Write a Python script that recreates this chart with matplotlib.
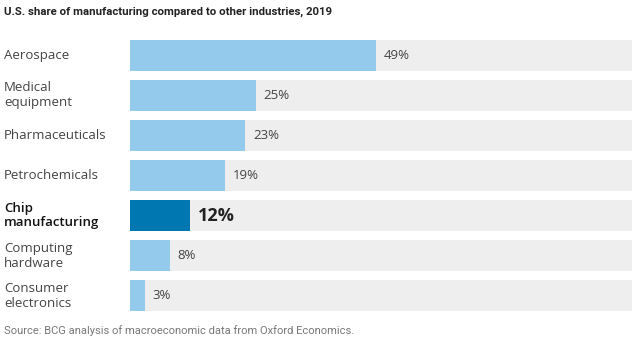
import matplotlib.pyplot as plt
from matplotlib import transforms

plt.rcParams['font.family'] = ['Open Sans', 'DejaVu Sans']

categories = ["Aerospace", "Medical\nequipment", "Pharmaceuticals", "Petrochemicals",
              "Chip\nmanufacturing", "Computing\nhardware", "Consumer\nelectronics"]
shares = [49, 25, 23, 19, 12, 8, 3]
highlight = "Chip\nmanufacturing"

light = "#94cbec"
dark = "#0077b0"
track = "#eeeeef"

fig = plt.figure(figsize=(6.42, 3.40), dpi=100)
ax = fig.add_axes([130 / 642, 1 - 316 / 340, 502 / 642, 281 / 340])

y = list(range(len(categories)))
ax.barh(y, [100] * len(y), height=0.77, color=track, zorder=1)
colors = [dark if c == highlight else light for c in categories]
ax.barh(y, shares, height=0.77, color=colors, zorder=2)

label_tr = transforms.blended_transform_factory(fig.transFigure, ax.transData)
for yi, c, v in zip(y, categories, shares):
    hl = c == highlight
    ax.text(v + 1.5, yi, f"{v}%", va="center", ha="left",
            fontsize=13 if hl else 9.5, fontweight="bold" if hl else "normal",
            color="#222222" if hl else "#444444")
    ax.text(4 / 642, yi, c, transform=label_tr, va="center", ha="left",
            fontsize=9.5, fontweight="semibold" if hl else "normal",
            color="#111111" if hl else "#444444", linespacing=1.15)

ax.set_xlim(0, 100)
ax.set_ylim(len(y) - 0.5, -0.5)
ax.axis("off")

fig.text(4 / 642, 1 - 12 / 340, "U.S. share of manufacturing compared to other industries, 2019",
         fontsize=8.2, fontweight="semibold", color="#222222", va="center", ha="left",
         family=['Roboto', 'DejaVu Sans'])
fig.text(4 / 642, 1 - 331 / 340, "Source: BCG analysis of macroeconomic data from Oxford Economics.",
         fontsize=8, color="#777777", va="center", ha="left",
         family=['Roboto', 'DejaVu Sans'])

fig.savefig("out.png", dpi=100)
